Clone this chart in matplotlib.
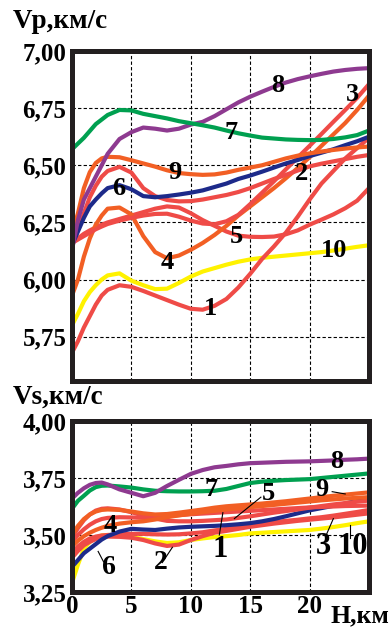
import matplotlib
matplotlib.use("Agg")
import matplotlib.pyplot as plt

# ---------------- data ----------------
H = [0, 0.5, 1, 1.5, 2, 2.5, 3, 4, 5, 6, 7, 8, 9, 10, 11, 12, 13, 14, 15,
     16, 17, 18, 19, 20, 21, 22, 23, 24, 25]

# Vp, km/s (top panel)
vp1 = [5.68, 5.73, 5.79, 5.84, 5.89, 5.93, 5.955, 5.975, 5.968, 5.95, 5.93, 5.91, 5.89, 5.872,
       5.868, 5.885, 5.915, 5.965, 6.025, 6.09, 6.145, 6.205, 6.275, 6.35, 6.42, 6.475, 6.53, 6.575, 6.62]
vp2 = [6.15, 6.22, 6.29, 6.36, 6.41, 6.45, 6.475, 6.493, 6.468, 6.40, 6.365, 6.348, 6.342, 6.343,
       6.35, 6.36, 6.37, 6.383, 6.40, 6.42, 6.44, 6.458, 6.477, 6.495, 6.507, 6.517, 6.527, 6.537, 6.545]
vp3 = [6.16, 6.175, 6.19, 6.205, 6.22, 6.232, 6.243, 6.258, 6.27, 6.28, 6.287, 6.288, 6.275, 6.258,
       6.245, 6.242, 6.255, 6.283, 6.33, 6.38, 6.43, 6.482, 6.534, 6.585, 6.637, 6.69, 6.742, 6.795, 6.855]
vp4 = [5.93, 6.00, 6.10, 6.18, 6.24, 6.28, 6.31, 6.315, 6.285, 6.19, 6.12, 6.093, 6.105, 6.13,
       6.16, 6.195, 6.235, 6.28, 6.32, 6.36, 6.40, 6.443, 6.488, 6.535, 6.585, 6.635, 6.685, 6.742, 6.805]
vp5 = [6.16, 6.18, 6.20, 6.215, 6.228, 6.24, 6.25, 6.265, 6.28, 6.295, 6.31, 6.32, 6.315, 6.29,
       6.26, 6.235, 6.21, 6.192, 6.187, 6.186, 6.188, 6.198, 6.215, 6.24, 6.262, 6.285, 6.312, 6.345, 6.40]
vp6 = [6.15, 6.21, 6.27, 6.32, 6.35, 6.377, 6.40, 6.413, 6.395, 6.365, 6.36, 6.365, 6.372, 6.38,
       6.39, 6.405, 6.42, 6.44, 6.455, 6.472, 6.49, 6.508, 6.523, 6.54, 6.555, 6.57, 6.588, 6.605, 6.625]
vp7 = [6.57, 6.595, 6.62, 6.65, 6.68, 6.70, 6.72, 6.742, 6.74, 6.725, 6.715, 6.705, 6.693, 6.684,
       6.675, 6.665, 6.652, 6.64, 6.63, 6.621, 6.617, 6.613, 6.611, 6.61, 6.611, 6.615, 6.622, 6.632, 6.652]
vp8 = [6.13, 6.26, 6.35, 6.40, 6.45, 6.50, 6.55, 6.615, 6.645, 6.665, 6.66, 6.652, 6.66, 6.678,
       6.69, 6.715, 6.745, 6.775, 6.80, 6.822, 6.843, 6.862, 6.877, 6.889, 6.90, 6.91, 6.917, 6.922, 6.925]
vp9 = [6.20, 6.29, 6.40, 6.47, 6.51, 6.53, 6.537, 6.535, 6.522, 6.508, 6.494, 6.478, 6.466, 6.461,
       6.458, 6.46, 6.468, 6.48, 6.49, 6.50, 6.515, 6.53, 6.542, 6.552, 6.56, 6.567, 6.573, 6.578, 6.582]
vp10 = [5.80, 5.85, 5.905, 5.945, 5.975, 6.00, 6.018, 6.027, 5.995, 5.975, 5.958, 5.96, 5.985, 6.013,
        6.035, 6.05, 6.065, 6.078, 6.088, 6.095, 6.10, 6.105, 6.11, 6.115, 6.12, 6.127, 6.135, 6.143, 6.15]

# Vs, km/s (bottom panel)
vs1 = [3.47, 3.50, 3.525, 3.545, 3.56, 3.57, 3.575, 3.578, 3.577, 3.575, 3.578, 3.582, 3.587, 3.591,
       3.594, 3.597, 3.60, 3.603, 3.606, 3.609, 3.612, 3.615, 3.618, 3.621, 3.623, 3.625, 3.627, 3.628, 3.629]
vs2 = [3.40, 3.43, 3.455, 3.47, 3.482, 3.49, 3.493, 3.492, 3.488, 3.478, 3.463, 3.452, 3.458, 3.478,
       3.495, 3.51, 3.518, 3.527, 3.536, 3.543, 3.55, 3.556, 3.562, 3.567, 3.572, 3.577, 3.583, 3.589, 3.595]
vs3 = [3.42, 3.45, 3.47, 3.485, 3.493, 3.498, 3.50, 3.503, 3.505, 3.505, 3.503, 3.502, 3.503, 3.507,
       3.512, 3.52, 3.527, 3.535, 3.543, 3.55, 3.556, 3.562, 3.567, 3.573, 3.578, 3.585, 3.593, 3.601, 3.61]
vs4 = [3.45, 3.475, 3.495, 3.51, 3.522, 3.532, 3.54, 3.55, 3.556, 3.56, 3.568, 3.578, 3.586, 3.593,
       3.60, 3.606, 3.612, 3.617, 3.622, 3.627, 3.632, 3.637, 3.642, 3.647, 3.652, 3.656, 3.66, 3.663, 3.666]
vs5 = [3.49, 3.53, 3.565, 3.59, 3.607, 3.615, 3.617, 3.612, 3.60, 3.585, 3.572, 3.562, 3.56, 3.56,
       3.562, 3.565, 3.568, 3.575, 3.582, 3.59, 3.598, 3.605, 3.612, 3.62, 3.627, 3.634, 3.64, 3.646, 3.651]
vs6 = [3.36, 3.39, 3.42, 3.44, 3.46, 3.48, 3.495, 3.515, 3.527, 3.524, 3.522, 3.528, 3.533, 3.536,
       3.538, 3.54, 3.543, 3.547, 3.552, 3.56, 3.57, 3.582, 3.595, 3.608, 3.618, 3.628, 3.638, 3.65, 3.66]
vs7 = [3.615, 3.65, 3.672, 3.695, 3.71, 3.716, 3.717, 3.713, 3.708, 3.70, 3.694, 3.692, 3.691, 3.691,
       3.692, 3.694, 3.702, 3.715, 3.728, 3.734, 3.738, 3.741, 3.743, 3.745, 3.75, 3.755, 3.76, 3.765, 3.77]
vs8 = [3.66, 3.685, 3.705, 3.72, 3.728, 3.73, 3.722, 3.70, 3.685, 3.67, 3.685, 3.715, 3.742, 3.768,
       3.785, 3.797, 3.803, 3.81, 3.815, 3.817, 3.819, 3.821, 3.822, 3.823, 3.825, 3.827, 3.83, 3.832, 3.835]
vs9 = [3.50, 3.54, 3.57, 3.59, 3.603, 3.61, 3.612, 3.61, 3.603, 3.595, 3.59, 3.592, 3.598, 3.605,
       3.612, 3.62, 3.626, 3.63, 3.634, 3.638, 3.643, 3.648, 3.654, 3.66, 3.666, 3.672, 3.677, 3.682, 3.687]
vs10 = [3.29, 3.37, 3.44, 3.47, 3.488, 3.498, 3.50, 3.497, 3.492, 3.482, 3.472, 3.465, 3.468, 3.478,
        3.485, 3.491, 3.495, 3.50, 3.507, 3.51, 3.513, 3.516, 3.519, 3.522, 3.528, 3.535, 3.543, 3.552, 3.56]

vp_ticks = [5.75, 6.00, 6.25, 6.50, 6.75, 7.00]
vs_ticks = [3.25, 3.50, 3.75, 4.00]
h_ticks = [0, 5, 10, 15, 20]
h_ticklabels = ["0", "5", "10", "15", "20"]

# ---------------- style ----------------
RED = "#ef4b47"
ORANGE = "#f25f24"
BLUE = "#1d2a8a"
GREEN = "#00a050"
PURPLE = "#8e3a90"
YELLOW = "#fff200"
FONT = "Liberation Serif"

plt.rcParams["font.family"] = [FONT, "DejaVu Serif"]
plt.rcParams["font.weight"] = "bold"

fig = plt.figure(figsize=(3.92, 6.27), dpi=100)
W, Hh = 392.0, 627.0


def ax_rect(l, t, r, b):
    return [l / W, 1 - b / Hh, (r - l) / W, (b - t) / Hh]


ax1 = fig.add_axes(ax_rect(72, 51, 369, 381))
ax2 = fig.add_axes(ax_rect(72, 421, 369, 592))

LW = 3.0

# top panel lines
top_series = [
    (vp10, YELLOW), (vp1, RED), (vp5, RED), (vp4, ORANGE), (vp3, RED),
    (vp2, RED), (vp6, BLUE), (vp9, ORANGE), (vp8, PURPLE), (vp7, GREEN),
]
for vals, c in top_series:
    ax1.plot(H, vals, color=c, lw=LW, solid_capstyle="round", zorder=3)

bot_series = [
    (vs10, YELLOW), (vs2, RED), (vs3, RED), (vs6, BLUE), (vs1, RED),
    (vs5, RED), (vs4, ORANGE), (vs9, ORANGE), (vs7, GREEN), (vs8, PURPLE),
]
for vals, c in bot_series:
    ax2.plot(H, vals, color=c, lw=LW, solid_capstyle="round", zorder=3)


def fmt(v):
    return f"{v:.2f}".replace(".", ",")


for ax in (ax1, ax2):
    ax.set_xlim(0, 25)
    for s in ax.spines.values():
        s.set_linewidth(3.6)
        s.set_color("#231f20")
        s.set_zorder(5)
    ax.grid(True, color="black", linestyle=(0, (3, 2)), linewidth=0.8, zorder=1)
    ax.tick_params(length=0, labelsize=18, pad=4)
    ax.set_xticks(h_ticks)

ax1.set_ylim(5.556, 7.0)
ax1.set_yticks(vp_ticks)
ax1.set_yticklabels([fmt(v) for v in vp_ticks], fontweight="bold")
ax1.set_xticklabels([])

ax2.set_ylim(3.255, 4.0)
ax2.set_yticks(vs_ticks)
ax2.set_yticklabels([fmt(v) for v in vs_ticks], fontweight="bold")
ax2.set_xticklabels(h_ticklabels, fontweight="bold")
ax2.tick_params(axis="x", pad=2)

# curve labels, top
lab_kw = dict(fontsize=19, fontweight="bold", ha="center", va="center", zorder=6)
top_labels = [("8", 17.3, 6.851), ("3", 23.6, 6.81), ("7", 13.4, 6.645), ("9", 8.7, 6.47),
              ("2", 19.3, 6.465), ("6", 3.9, 6.40), ("5", 13.8, 6.187), ("4", 8.05, 6.076),
              ("10", 22.1, 6.128), ("1", 11.7, 5.875)]
for t, x, y in top_labels:
    ax1.text(x, y, t, **lab_kw)

# curve labels, bottom
bot_labels = [("8", 22.3, 3.824, 19), ("7", 11.7, 3.70, 19), ("5", 16.5, 3.68, 19),
              ("9", 21.0, 3.70, 19), ("4", 3.2, 3.543, 19), ("1", 12.5, 3.435, 22),
              ("6", 3.1, 3.356, 20), ("2", 7.5, 3.378, 20), ("3", 21.2, 3.45, 22),
              ("10", 23.6, 3.45, 22)]
for t, x, y, fs in bot_labels:
    ax2.text(x, y, t, fontsize=fs, fontweight="bold", ha="center", va="center", zorder=6)

# leader lines, bottom
leaders = [((2.2, 2.65), (3.428, 3.383)), ((7.6, 8.45), (3.379, 3.446)),
           ((12.4, 12.7), (3.50, 3.598)), ((13.67, 15.9), (3.572, 3.666)),
           ((21.9, 23.0), (3.69, 3.68)), ((21.4, 22.0), (3.50, 3.572)),
           ((23.4, 23.4), (3.486, 3.546))]
for xs, ys in leaders:
    ax2.plot(xs, ys, color="black", lw=0.8, zorder=6)

# axis titles
fig.text(13 / W, 1 - 21 / Hh, "Vp,км/с", fontsize=19.5, fontweight="bold", ha="left", va="center")
fig.text(13 / W, 1 - 397 / Hh, "Vs,км/с", fontsize=19.5, fontweight="bold", ha="left", va="center")
fig.text(389 / W, 1 - 616 / Hh, "H,км", fontsize=18.5, fontweight="bold", ha="right", va="center")

fig.savefig("out.png", dpi=100)
